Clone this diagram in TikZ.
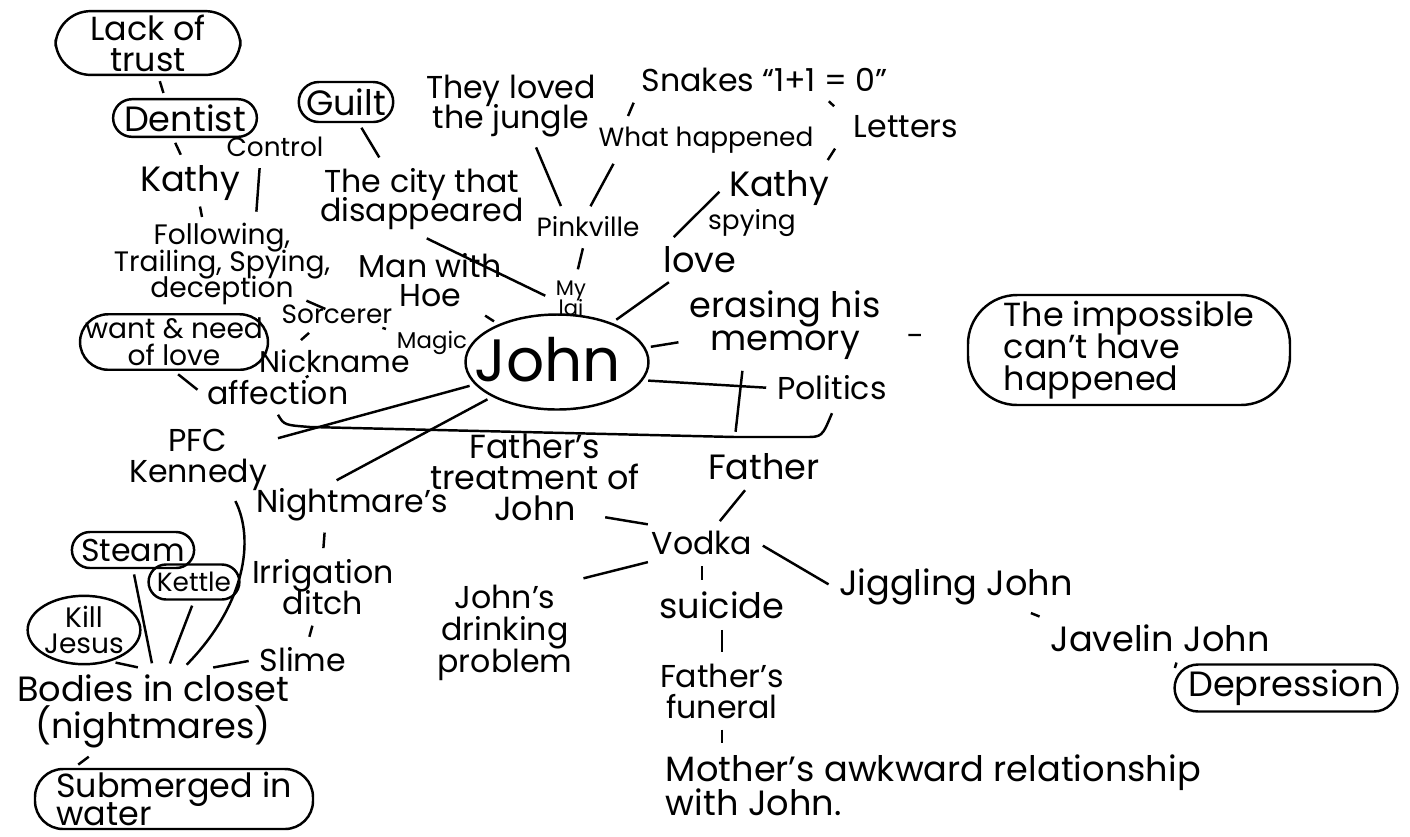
\documentclass[tikz,border=0pt]{standalone}
\usepackage{fontspec}
\setmainfont{Poppins}
\usetikzlibrary{shapes.geometric,shapes.misc}

\newcommand{\tightlines}{\lineskiplimit=-20pt\lineskip=0pt}

\tikzset{
  word/.style={font=\fontsize{9}{8.8}\selectfont\tightlines, align=center, inner sep=1.5pt},
  smallword/.style={word, font=\fontsize{7.5}{7.5}\selectfont\tightlines},
  bigword/.style={word, font=\fontsize{10}{9.5}\selectfont\tightlines},
  pill/.style={draw, rounded rectangle, line width=0.7pt},
  bubble/.style={draw, rounded corners=8pt, line width=0.7pt},
  link/.style={line width=0.7pt, shorten <=1.5pt, shorten >=1.5pt},
}

\begin{document}
\begin{tikzpicture}
    \useasboundingbox (0,0) rectangle (14.1,-8.36);

    % centre
    \node[ellipse, draw, line width=0.7pt, minimum width=1.83cm, minimum height=0.95cm] (john) at (5.57,-3.62) {};
    \node[font=\fontsize{17}{17}\selectfont, inner sep=0pt] (johntext) at (5.48,-3.60) {John};

    % upper left
    \node[bubble, word, font=\fontsize{9.5}{8.8}\selectfont\tightlines, inner sep=1pt, minimum width=1.85cm, minimum height=0.5cm, rounded corners=10pt] (trust) at (1.48,-0.43) {Lack of\\trust};
    \node[pill, bigword, minimum width=1.34cm, minimum height=0.32cm] (dentist) at (1.85,-1.18) {Dentist};
    \node[pill, bigword, minimum width=1.05cm, minimum height=0.40cm] (guilt) at (3.46,-1.02) {Guilt};
    \node[smallword] (control) at (2.75,-1.47) {Control};
    \node[bigword] (kathyA) at (1.90,-1.83) {Kathy};
    \node[word, font=\fontsize{9}{8.5}\selectfont\tightlines] (city) at (4.22,-1.99) {The city that\\disappeared};
    \node[word, font=\fontsize{8}{7.6}\selectfont\tightlines] (follow) at (2.22,-2.64) {Following,\\Trailing, Spying,\\deception};
    \node[word, font=\fontsize{9}{8.3}\selectfont\tightlines] (hoe) at (4.30,-2.80) {Man with\\Hoe};
    \node[smallword] (sorcerer) at (3.37,-3.14) {Sorcerer};
    \node[word, font=\fontsize{6.5}{6.5}\selectfont] (magic) at (4.32,-3.43) {Magic};
    \node[bubble, word, font=\fontsize{8}{7.8}\selectfont\tightlines, inner sep=1pt, minimum width=1.88cm, minimum height=0.55cm] (want) at (1.74,-3.42) {want \& need\\of love};
    \node[word, font=\fontsize{8.5}{8}\selectfont] (nick) at (3.35,-3.61) {Nickname};
    \node[word] (affect) at (2.78,-3.93) {affection};

    % upper middle and right
    \node[word, font=\fontsize{9}{8.3}\selectfont\tightlines] (jungle) at (5.11,-1.06) {They loved\\the jungle};
    \node[word] (snakes) at (6.98,-0.80) {Snakes};
    \node[word] (oneplus) at (8.25,-0.80) {``1+1 = 0''};
    \node[smallword] (happened) at (7.06,-1.40) {What happened};
    \node[word] (letters) at (9.06,-1.27) {Letters};
    \node[bigword] (kathyB) at (7.79,-1.88) {Kathy};
    \node[smallword] (spying) at (7.52,-2.23) {spying};
    \node[smallword] (pink) at (5.88,-2.27) {Pinkville};
    \node[bigword] (love) at (7.00,-2.60) {love};
    \node[word, font=\fontsize{6}{5.8}\selectfont\tightlines] (mylai) at (5.71,-2.98) {My\\lai};
    \node[bigword] (erase) at (7.85,-3.25) {erasing his\\memory};
    \node[bubble, word, font=\fontsize{9.5}{9.2}\selectfont\tightlines, align=left, minimum width=3.22cm, minimum height=1.1cm, rounded corners=14pt] (impossible) at (11.29,-3.50) {The impossible\\can't have\\happened};
    \node[word] (politics) at (8.32,-3.88) {Politics};

    % lower half
    \node[word, font=\fontsize{9}{8.6}\selectfont\tightlines] (pfc) at (1.98,-4.60) {PFC\\Kennedy};
    \node[word] (nightm) at (3.52,-5.05) {Nightmare's};
    \node[bigword, font=\fontsize{9.5}{8.8}\selectfont\tightlines] (treat) at (5.35,-4.77) {Father's\\treatment of\\John};
    \node[bigword] (father) at (7.64,-4.67) {Father};
    \node[word] (vodka) at (7.02,-5.43) {Vodka};
    \node[bigword] (jiggle) at (9.56,-5.87) {Jiggling John};
    \node[bigword] (javelin) at (11.60,-6.38) {Javelin John};
    \node[pill, bigword, minimum width=2.07cm, minimum height=0.47cm] (depress) at (12.86,-6.88) {Depression};
    \node[bigword] (suicide) at (7.22,-6.05) {suicide};
    \node[word] (funeral) at (7.22,-6.91) {Father's\\funeral};
    \node[bigword, align=left, anchor=west, font=\fontsize{10}{9.7}\selectfont\tightlines] (mother) at (6.60,-7.85) {Mother's awkward relationship\\with John.};
    \node[word, font=\fontsize{9}{9}\selectfont\tightlines] (drink) at (5.05,-6.33) {John's\\drinking\\problem};
    \node[word] (irrig) at (3.23,-5.87) {Irrigation\\ditch};
    \node[word] (slime) at (3.03,-6.60) {Slime};
    \node[pill, word, minimum width=1.18cm, minimum height=0.36cm] (steam) at (1.33,-5.50) {Steam};
    \node[pill, smallword, minimum width=0.85cm, minimum height=0.35cm] (kettle) at (1.94,-5.82) {Kettle};
    \node[ellipse, draw, line width=0.7pt, word, font=\fontsize{8}{7.6}\selectfont\tightlines, inner sep=0pt] (kill) at (0.84,-6.30) {Kill\\Jesus};
    \node[bigword, font=\fontsize{10}{10.5}\selectfont\tightlines] (bodies) at (1.53,-7.11) {Bodies in closet\\(nightmares)};
    \node[bubble, word, font=\fontsize{9.5}{8.2}\selectfont\tightlines, inner xsep=3pt, inner ysep=0.5pt, align=left, minimum width=2.78cm, minimum height=0.6cm] (submerge) at (1.74,-7.99) {Submerged in\\water};

    % links, upper left
    \draw[link] (trust) -- ([xshift=-2mm]dentist.north);
    \draw[link] ([xshift=-1.2mm]dentist.south) -- ([xshift=-0.7mm]kathyA.north);
    \draw[link, shorten <=0pt, shorten >=0pt] ([xshift=1mm]kathyA.south) -- ([xshift=-2mm]follow.north);
    \draw[link] ([xshift=-1.5mm]control.south) -- ([xshift=3.4mm]follow.north);
    \draw[link] (guilt) -- ([xshift=-4mm]city.north);
    \draw[link] (city.south) -- (mylai.west);
    \draw[link] (follow) -- (sorcerer);
    \draw[link] (sorcerer) -- (magic);
    \draw[link] ([xshift=-2.4mm]sorcerer.south) -- ([xshift=-3.8mm]nick.north);
    \draw[link] (nick) -- (affect);
    \draw[link] (want.south) -- (affect.west);
    \draw[link] (hoe) -- (john);

    % links, upper right
    \draw[link] ([xshift=2.3mm]jungle.south) -- ([xshift=-2.5mm]pink.north);
    \draw[link] (snakes.south west) -- ([xshift=-8mm]happened.north);
    \draw[link] ([xshift=-9mm]happened.south) -- (pink.north);
    \draw[link] (oneplus.south) -- ([xshift=-1mm]letters.north west);
    \draw[link] ([xshift=-1mm]letters.south west) -- ([xshift=-1mm]kathyB.north east);
    \draw[link] (kathyB.west) -- ([xshift=-3mm]love.north);
    \draw[link] (pink) -- (mylai);
    \draw[link] (love) -- (john);
    \draw[link] (erase) -- (john);
    \draw[link] (john.-12) -- (politics.west);
    \draw[link, shorten <=0.22cm, shorten >=0.46cm] ([yshift=-1mm]erase.east) -- ([yshift=1.5mm]impossible.west);

    % bracket under the centre
    \coordinate (brk) at (7.35,-4.37);
    \draw[link] ([xshift=-4.2mm]erase.south) -- (brk);
    \draw[line width=0.7pt] ([yshift=-1pt]affect.south) .. controls (2.84,-4.25) .. (3.10,-4.27) -- (brk) -- (8.05,-4.37) .. controls (8.22,-4.37) .. ([yshift=-2pt]politics.south);

    % links, lower half
    \draw[link] (john) -- (pfc);
    \draw[link] (john) -- ([xshift=-2mm]nightm.north);
    \draw[link] ([xshift=3.5mm]pfc.south) .. controls (2.55,-5.40) and (2.45,-6.05) .. ([xshift=3mm]bodies.north);
    \draw[link] ([xshift=-2.7mm]nightm.south) -- (irrig.north);
    \draw[link] (irrig) -- (slime);
    \draw[link] (slime.west) -- ([xshift=5.5mm]bodies.north);
    \draw[link] (steam.south) -- (bodies.north);
    \draw[link] (kettle.south) -- ([xshift=1.5mm]bodies.north);
    \draw[link] (kill.-50) -- ([xshift=-1mm]bodies.north);
    \draw[link] ([xshift=-6mm]bodies.south) -- ([xshift=-10mm]submerge.north);
    \draw[link] ([xshift=6.5mm,yshift=1mm]treat.south) -- (vodka.160);
    \draw[link] (father) -- (vodka);
    \draw[link] (vodka.200) -- (drink.north east);
    \draw[link] (vodka.east) -- (jiggle.west);
    \draw[link] (vodka.south) -- (vodka.south |- suicide.north);
    \draw[link] (suicide.south) -- (suicide.south |- funeral.north);
    \draw[link] (funeral.south) -- (funeral.south |- mother.north);
    \draw[link] ([xshift=7mm]jiggle.south) -- (javelin.north west);
    \draw[link] ([xshift=1.8mm]javelin.south) -- ([yshift=1.5mm]depress.west);
\end{tikzpicture}
\end{document}
